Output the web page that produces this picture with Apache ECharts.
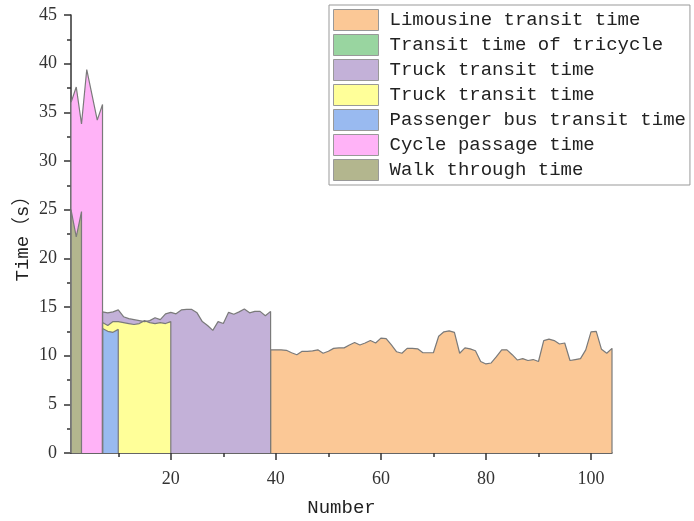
<!DOCTYPE html>
<html>
<head>
<meta charset="utf-8">
<script src="https://cdn.jsdelivr.net/npm/echarts@6/dist/echarts.min.js"></script>
<style>
  html, body { margin: 0; padding: 0; background: #fff; }
  #chart { width: 694px; height: 521px; }
</style>
</head>
<body>
<div id="chart"></div>
<script>
// Passing time of each road user type, by sample number

// Limousine, samples 39..104
const limousineX = [39,40,41,42,43,44,45,46,47,48,49,50,51,52,53,54,55,56,57,58,59,60,61,62,63,64,65,66,67,68,69,70,71,72,73,74,75,76,77,78,79,80,81,82,83,84,85,86,87,88,89,90,91,92,93,94,95,96,97,98,99,100,101,102,103,104];
const limousineY = [10.6,10.6,10.6,10.55,10.3,10.1,10.45,10.45,10.5,10.6,10.25,10.45,10.75,10.8,10.8,11.1,11.35,11.1,11.3,11.55,11.3,11.8,11.75,11.1,10.4,10.25,10.75,10.75,10.7,10.3,10.3,10.3,12.0,12.45,12.55,12.4,10.25,10.8,10.7,10.5,9.4,9.15,9.25,9.9,10.6,10.6,10.1,9.55,9.7,9.5,9.6,9.4,11.55,11.7,11.55,11.2,11.3,9.5,9.6,9.7,10.6,12.45,12.5,10.65,10.25,10.75];

// Tricycle (no samples drawn)
const tricycleX = [];
const tricycleY = [];

// Truck (purple), samples 7..39
const truckAX = [7,8,9,10,11,12,13,14,15,16,17,18,19,20,21,22,23,24,25,26,27,28,29,30,31,32,33,34,35,36,37,38,39];
const truckAY = [14.5,14.4,14.5,14.7,14.0,13.8,13.7,13.6,13.5,13.6,13.9,13.7,14.3,14.45,14.3,14.7,14.75,14.75,14.4,13.5,13.1,12.6,13.5,13.3,14.45,14.25,14.5,14.8,14.4,14.55,14.55,14.1,14.55];

// Truck (yellow), samples 7..20
const truckBX = [7,8,9,10,11,12,13,14,15,16,17,18,19,20];
const truckBY = [13.4,13.1,13.5,13.5,13.4,13.3,13.2,13.3,13.6,13.4,13.3,13.4,13.3,13.5];

// Passenger bus, samples 7..10
const busX = [7,8,9,10];
const busY = [12.8,12.5,12.4,12.7];

// Bicycle, samples 1..7
const cycleX = [1,2,3,4,5,6,7];
const cycleY = [36.0,37.6,33.8,39.4,36.8,34.2,35.8];

// Pedestrians, samples 1..3
const walkX = [1,2,3];
const walkY = [25.0,22.2,24.8];

const seriesNames = [
  'Limousine transit time',
  'Transit time of tricycle',
  'Truck transit time',
  'Truck transit time ',
  'Passenger bus transit time',
  'Cycle passage time',
  'Walk through time'
];
const seriesColors = ['#fbc896', '#99d5a0', '#c3b1d8', '#ffff99', '#99baf0', '#ffb3f7', '#b3b68e'];
const seriesX = [limousineX, tricycleX, truckAX, truckBX, busX, cycleX, walkX];
const seriesY = [limousineY, tricycleY, truckAY, truckBY, busY, cycleY, walkY];

const xMajorTicks = [20, 40, 60, 80, 100];
const xMinorTicks = [10, 30, 50, 70, 90];

// closed outline: drop to the baseline at both ends of each block
function outline(xs, ys) {
  if (!xs.length) return [];
  const pts = xs.map((x, i) => [x, ys[i]]);
  return [[xs[0], 0]].concat(pts, [[xs[xs.length - 1], 0]]);
}

const monoFont = '"Liberation Mono", "Noto Sans CJK SC", monospace';
const numFont = '"Liberation Serif", serif';
const axisColor = '#333';

const chart = echarts.init(document.getElementById('chart'), null, { renderer: 'canvas' });

chart.setOption({
  animation: false,
  backgroundColor: '#fff',
  grid: { left: 71, right: 82, top: 15, bottom: 68, containLabel: false, outerBoundsMode: 'none' },
  legend: {
    orient: 'vertical',
    left: 329,
    top: 5,
    padding: [4, 4, 4, 4],
    borderColor: '#999',
    borderWidth: 1,
    backgroundColor: '#fff',
    icon: 'rect',
    itemWidth: 45,
    itemHeight: 21,
    itemGap: 3,
    selectedMode: false,
    itemStyle: { borderColor: '#999', borderWidth: 1 },
    textStyle: { fontFamily: monoFont, fontSize: 19, lineHeight: 21, color: '#222', padding: [0, 0, 0, 6] },
    formatter: name => name.trim(),
    data: seriesNames
  },
  xAxis: [
    {
      type: 'value',
      min: 1,
      max: 104,
      name: 'Number',
      nameLocation: 'middle',
      nameGap: 45,
      nameMoveOverlap: false,
      nameTextStyle: { fontFamily: monoFont, fontSize: 19, color: '#222' },
      splitLine: { show: false },
      axisLine: { show: true, onZero: false, lineStyle: { color: axisColor, width: 1.5 } },
      axisTick: { show: true, length: 7, customValues: xMajorTicks, lineStyle: { color: axisColor, width: 1.5 } },
      axisLabel: { customValues: xMajorTicks, margin: 17, fontFamily: numFont, fontSize: 18, color: '#333' }
    },
    {
      type: 'value',
      min: 1,
      max: 104,
      position: 'bottom',
      splitLine: { show: false },
      axisLine: { show: false },
      axisTick: { show: true, length: 4, customValues: xMinorTicks, lineStyle: { color: axisColor, width: 1.5 } },
      axisLabel: { show: false }
    }
  ],
  yAxis: {
    type: 'value',
    min: 0,
    max: 45,
    interval: 5,
    name: 'Time（s）',
    nameLocation: 'middle',
    nameGap: 39,
    nameMoveOverlap: false,
    nameRotate: 90,
    nameTextStyle: { fontFamily: monoFont, fontSize: 19, color: '#222' },
    splitLine: { show: false },
    axisLine: { show: true, lineStyle: { color: axisColor, width: 1.5 } },
    axisTick: { show: true, length: 7, lineStyle: { color: axisColor, width: 1.5 } },
    minorTick: { show: true, splitNumber: 2, length: 4, lineStyle: { color: axisColor, width: 1.5 } },
    axisLabel: { margin: 14, fontFamily: numFont, fontSize: 18, color: '#333' }
  },
  series: seriesNames.map((name, i) => ({
    name: name,
    type: 'line',
    xAxisIndex: 0,
    data: outline(seriesX[i], seriesY[i]),
    showSymbol: false,
    symbol: 'none',
    color: seriesColors[i],
    itemStyle: { color: seriesColors[i] },
    lineStyle: { color: '#7a7a7a', width: 1.2 },
    areaStyle: { color: seriesColors[i], opacity: 1 }
  }))
});
</script>
</body>
</html>
